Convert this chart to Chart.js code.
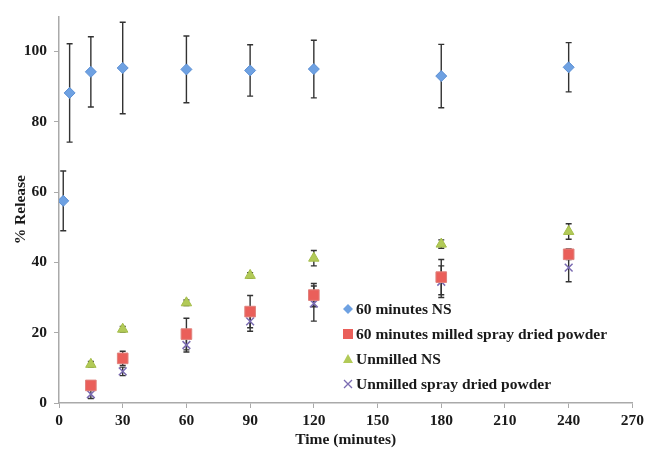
<!DOCTYPE html>
<html>
<head>
<meta charset="utf-8">
<script src="https://cdn.jsdelivr.net/npm/chart.js@4"></script>
<style>
    html, body { margin: 0; padding: 0; background: #fff; }
    #wrap { width: 648px; height: 452px; position: relative; }
</style>
</head>
<body>
<div id="wrap"><canvas id="releaseChart"></canvas></div>
<script>
// Data
const timesNS60 = [2, 5, 15, 30, 60, 90, 120, 180, 240];
const releaseNS60 = [57.5, 88.2, 94.2, 95.3, 94.9, 94.6, 95.0, 93.0, 95.5];
const errNS60 = [8.5, 14, 10, 13, 9.5, 7.3, 8.2, 9, 7];

const timesOther = [15, 30, 60, 90, 120, 180, 240];
const releaseMilledSD = [5.0, 12.7, 19.6, 26.0, 30.7, 35.8, 42.3];
const errMilledSD = [1.2, 2.0, 4.5, 4.6, 3.3, 5.0, 1.5];
const releaseUnmilledNS = [11.0, 21.0, 28.5, 36.3, 41.2, 45.2, 48.8];
const errUnmilledNS = [0.8, 0.8, 0.8, 0.8, 2.2, 1.2, 2.2];
const releaseUnmilledSD = [2.5, 9.0, 16.5, 23.2, 28.3, 34.5, 38.5];
const errUnmilledSD = [1.2, 1.2, 2.0, 2.8, 5.0, 4.5, 4.0];

const xTicks = [0, 30, 60, 90, 120, 150, 180, 210, 240, 270];
const yTicks = [0, 20, 40, 60, 80, 100];

const seriesNames = ['60 minutes NS', '60 minutes milled spray dried powder', 'Unmilled NS', 'Unmilled spray dried powder'];

const toPoints = (xs, ys) => xs.map((x, i) => ({ x: x, y: ys[i] }));

const FONT = { family: "'Liberation Serif', 'Times New Roman', serif", size: 15.5, weight: 'bold' };

// Error bars, drawn under the markers
const errorBars = {
    id: 'errorBars',
    beforeDatasetsDraw(chart) {
        const ctx = chart.ctx;
        const xs = chart.scales.x, ys = chart.scales.y;
        ctx.save();
        ctx.strokeStyle = '#333';
        ctx.lineWidth = 1.4;
        chart.data.datasets.forEach(ds => {
            ds.data.forEach((p, i) => {
                const e = ds.errors[i];
                const px = xs.getPixelForValue(p.x);
                const top = ys.getPixelForValue(p.y + e);
                const bot = ys.getPixelForValue(p.y - e);
                ctx.beginPath();
                ctx.moveTo(px, top); ctx.lineTo(px, bot);
                ctx.moveTo(px - 3, top); ctx.lineTo(px + 3, top);
                ctx.moveTo(px - 3, bot); ctx.lineTo(px + 3, bot);
                ctx.stroke();
            });
        });
        ctx.restore();
    }
};

// Legend sitting inside the plot area
function drawMarker(ctx, style, x, y, color) {
    ctx.beginPath();
    if (style === 'rectRot') {
        ctx.moveTo(x, y - 5); ctx.lineTo(x + 5, y); ctx.lineTo(x, y + 5); ctx.lineTo(x - 5, y);
        ctx.closePath(); ctx.fillStyle = color; ctx.fill();
    } else if (style === 'rect') {
        ctx.rect(x - 5, y - 5, 10, 10); ctx.fillStyle = color; ctx.fill();
    } else if (style === 'triangle') {
        ctx.moveTo(x, y - 5); ctx.lineTo(x + 5, y + 4); ctx.lineTo(x - 5, y + 4);
        ctx.closePath(); ctx.fillStyle = color; ctx.fill();
    } else {
        ctx.moveTo(x - 4, y - 4); ctx.lineTo(x + 4, y + 4);
        ctx.moveTo(x + 4, y - 4); ctx.lineTo(x - 4, y + 4);
        ctx.strokeStyle = color; ctx.lineWidth = 1.3; ctx.stroke();
    }
}

const insideLegend = {
    id: 'insideLegend',
    afterDraw(chart) {
        const ctx = chart.ctx;
        ctx.save();
        ctx.font = 'bold 15.5px ' + FONT.family;
        ctx.textBaseline = 'middle';
        ctx.textAlign = 'left';
        chart.data.datasets.forEach((ds, i) => {
            const y = 309 + i * 25;
            drawMarker(ctx, ds.pointStyle, 348, y, ds.backgroundColor);
            ctx.fillStyle = '#1a1a1a';
            ctx.fillText(ds.label, 356, y + 1);
        });
        ctx.restore();
    }
};

window.addEventListener('DOMContentLoaded', () => {
    new Chart(document.getElementById('releaseChart'), {
        type: 'scatter',
        data: {
            datasets: [
                {
                    label: seriesNames[0],
                    data: toPoints(timesNS60, releaseNS60),
                    errors: errNS60,
                    pointStyle: 'rectRot',
                    radius: 5.5,
                    backgroundColor: '#6ea1e2',
                    borderColor: '#5b8fd4',
                    borderWidth: 1
                },
                {
                    label: seriesNames[1],
                    data: toPoints(timesOther, releaseMilledSD),
                    errors: errMilledSD,
                    pointStyle: 'rect',
                    radius: 7.5,
                    backgroundColor: '#ea5f5a',
                    borderColor: '#e0827d',
                    borderWidth: 1
                },
                {
                    label: seriesNames[2],
                    data: toPoints(timesOther, releaseUnmilledNS),
                    errors: errUnmilledNS,
                    pointStyle: 'triangle',
                    radius: 6,
                    backgroundColor: '#b2ca58',
                    borderColor: '#a4bd4a',
                    borderWidth: 1
                },
                {
                    label: seriesNames[3],
                    data: toPoints(timesOther, releaseUnmilledSD),
                    errors: errUnmilledSD,
                    pointStyle: 'crossRot',
                    radius: 5.5,
                    backgroundColor: '#7b6cb2',
                    borderColor: '#7b6cb2',
                    borderWidth: 1.5
                }
            ]
        },
        options: {
            responsive: true,
            maintainAspectRatio: false,
            animation: false,
            layout: { padding: { top: 9, right: 15, left: 0, bottom: 0 } },
            plugins: {
                legend: { display: false },
                tooltip: { enabled: false }
            },
            scales: {
                x: {
                    type: 'linear',
                    min: xTicks[0],
                    max: xTicks[xTicks.length - 1],
                    afterBuildTicks: s => { s.ticks = xTicks.map(v => ({ value: v })); },
                    afterFit: s => { s.height = 49; },
                    grid: { display: true, drawOnChartArea: false, tickLength: 5, color: '#aaa' },
                    border: { color: '#aaa', width: 1.5 },
                    ticks: { font: FONT, color: '#1a1a1a', padding: 4, maxRotation: 0 },
                    title: { display: true, text: 'Time (minutes)', font: FONT, color: '#1a1a1a', padding: { top: 0, bottom: 3 } }
                },
                y: {
                    min: 0,
                    max: 110,
                    afterBuildTicks: s => { s.ticks = yTicks.map(v => ({ value: v })); },
                    afterFit: s => { s.width = 59; },
                    grid: { display: true, drawOnChartArea: false, tickLength: 5, color: '#aaa' },
                    border: { color: '#aaa', width: 1.5 },
                    ticks: { font: FONT, color: '#1a1a1a', padding: 7 },
                    title: { display: true, text: '% Release', font: FONT, color: '#1a1a1a', padding: { top: 12, bottom: 0 } }
                }
            }
        },
        plugins: [errorBars, insideLegend]
    });
});
</script>
</body>
</html>
